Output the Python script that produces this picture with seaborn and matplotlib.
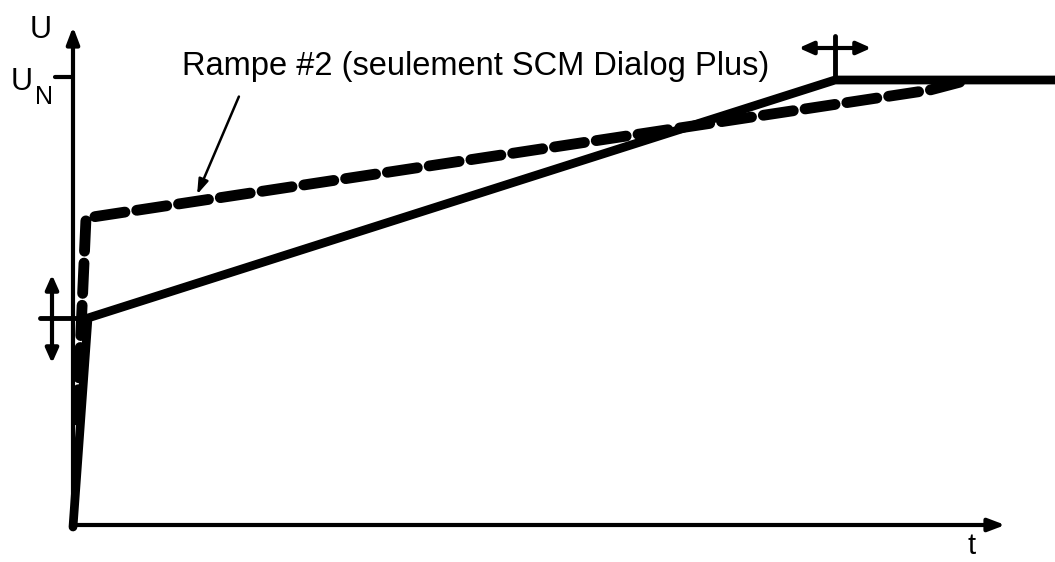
import matplotlib
matplotlib.use("Agg")
import matplotlib.pyplot as plt
import pandas as pd
import seaborn as sns

# schematic voltage ramps, in picture units (x = time, y = height from top)
ramp1_t = [73, 88, 835, 1055]
ramp1_u = [527, 318, 80, 80]
ramp2_t = [77, 86, 930, 968]
ramp2_u = [420, 218, 90, 80]

annotation = "Rampe #2 (seulement SCM Dialog Plus)"

sns.set_style("white")
plt.rcParams["font.family"] = ["Liberation Sans", "DejaVu Sans"]
plt.rcParams["text.color"] = "black"

fig = plt.figure(figsize=(10.55, 5.62), dpi=100)
ax = fig.add_axes([0, 0, 1, 1])

df1 = pd.DataFrame({"t": ramp1_t, "u": ramp1_u})
df2 = pd.DataFrame({"t": ramp2_t, "u": ramp2_u})
sns.lineplot(x="t", y="u", data=df1, sort=False, color="black", linewidth=6.3,
             solid_capstyle="round", solid_joinstyle="miter", ax=ax)
sns.lineplot(x="t", y="u", data=df2, sort=False, color="black", linewidth=7.8,
             dashes=False, ax=ax)
ax.lines[-1].set_dashes([2.8, 1.1])
ax.lines[-1].set_dash_capstyle("round")

# axes with arrows
arrow = dict(arrowstyle="-|>,head_length=1.0,head_width=0.38", color="black", lw=3)
ax.annotate("", xy=(73, 24), xytext=(73, 527), arrowprops=arrow)
ax.annotate("", xy=(1008, 525), xytext=(71, 525), arrowprops=arrow)
ax.plot([55, 73], [77, 77], color="black", lw=3)
ax.text(41, 30, "U", fontsize=22, ha="center", va="center")
ax.text(22, 82, "U", fontsize=22, ha="center", va="center")
ax.text(44, 97, "N", fontsize=18, ha="center", va="center")
ax.text(972, 546, "t", fontsize=21, ha="center", va="center")

# adjustment arrows
dbl = dict(arrowstyle="<|-|>,head_length=0.85,head_width=0.38", color="black", lw=3)
ax.annotate("", xy=(52, 272), xytext=(52, 366), arrowprops=dbl)
ax.plot([40, 88], [318, 318], color="black", lw=3.5)
ax.annotate("", xy=(796, 48), xytext=(874, 48), arrowprops=dbl)
ax.plot([835, 835], [36, 80], color="black", lw=3.5)

# label for the dashed ramp
ax.text(182, 67, annotation, fontsize=23.5, ha="left", va="center")
ax.annotate("", xy=(196, 197), xytext=(240, 94),
            arrowprops=dict(arrowstyle="-|>,head_length=0.9,head_width=0.3", color="black", lw=1.8))

ax.set_xlim(0, 1055)
ax.set_ylim(562, 0)
ax.set_axis_off()

fig.savefig("out.png", dpi=100)
